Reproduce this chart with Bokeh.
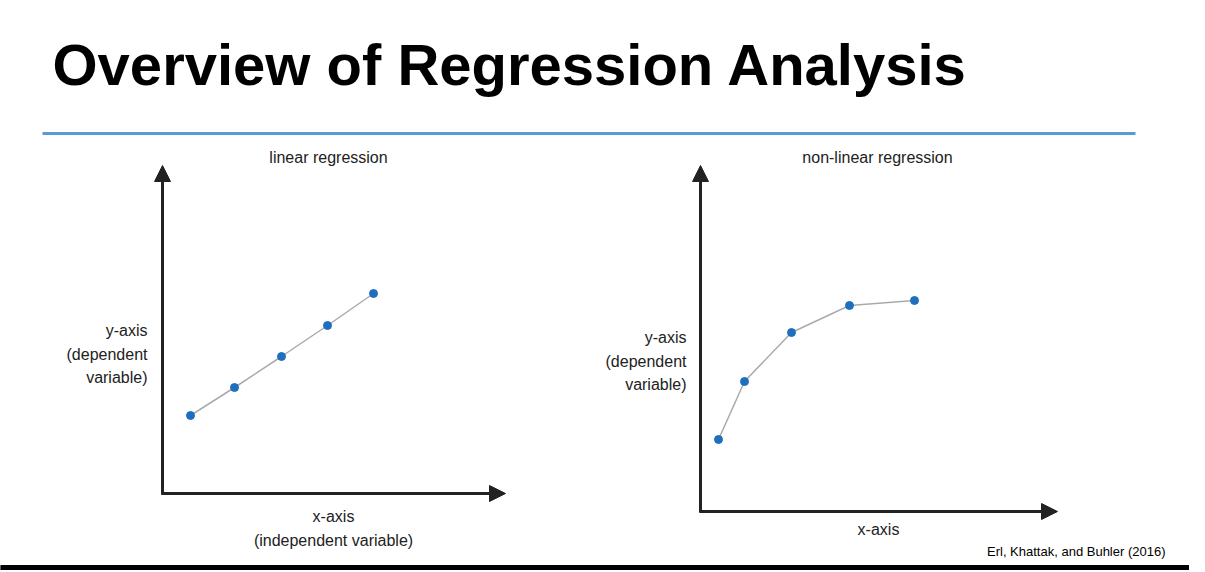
from bokeh.plotting import figure
from bokeh.models import Arrow, NormalHead, Range1d
from bokeh.core.properties import value
from bokeh.embed import file_html
from bokeh.resources import INLINE

# diagram data (slide coordinates)
lin_x = [190, 234, 281, 327, 373]
lin_y = [415, 387, 356, 325, 293]
nl_x = [718, 744, 791, 849, 914]
nl_y = [439, 381, 332, 305, 300]

W, H = 1189, 570
p = figure(width=W, height=H, output_backend="svg", toolbar_location=None,
           x_range=Range1d(0, W), y_range=Range1d(H, 0),
           min_border=0, outline_line_color=None)
p.axis.visible = False
p.grid.visible = False
F = value("Liberation Sans")

p.text(x=[52], y=[64], text=["Overview of Regression Analysis"], text_font=F,
       text_font_size="58px", text_font_style="bold", text_baseline="middle", text_color="black")
p.line([42, 1135], [133, 133], line_color="#5b9bd5", line_width=3)

def arrow(x0, y0, x1, y1):
    p.add_layout(Arrow(end=NormalHead(size=16, fill_color="#222", line_color="#222"),
                       x_start=x0, y_start=y0, x_end=x1, y_end=y1,
                       line_color="#222", line_width=3))

arrow(162, 494, 162, 165)
arrow(161, 493, 505, 493)
arrow(700, 512, 700, 165)
arrow(699, 511, 1057, 511)

p.line(lin_x, lin_y, line_color="#aaaaaa", line_width=1.5)
p.scatter(lin_x, lin_y, size=8, color="#1f6fbf")
p.line(nl_x, nl_y, line_color="#aaaaaa", line_width=1.5)
p.scatter(nl_x, nl_y, size=8, color="#1f6fbf")

def txt(x, y, s, align="center", size="16px", color="#222"):
    p.text(x=[x], y=[y], text=[s], text_font=F, text_font_size=size,
           text_align=align, text_baseline="middle", text_color=color)

txt(328, 157, "linear regression")
txt(147, 330, "y-axis", "right")
txt(147, 354, "(dependent", "right")
txt(147, 377, "variable)", "right")
txt(333, 516, "x-axis")
txt(333, 540, "(independent variable)")
txt(877, 157, "non-linear regression")
txt(686, 337, "y-axis", "right")
txt(686, 361, "(dependent", "right")
txt(686, 384, "variable)", "right")
txt(878, 529, "x-axis")
txt(1165, 551, "Erl, Khattak, and Buhler (2016)", "right", "13px", "black")
p.quad(left=[0], right=[W], top=[565], bottom=[H], color="black")

open("out.html", "w").write(file_html(p, INLINE))
